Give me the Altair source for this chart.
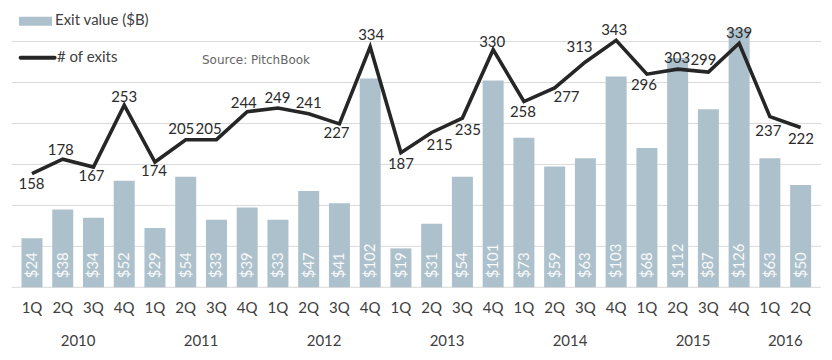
import altair as alt
import pandas as pd

# ---- data ----
YEARS = ["2010", "2011", "2012", "2013", "2014", "2015", "2016"]
QUARTERS_PER_YEAR = [4, 4, 4, 4, 4, 4, 2]
QUARTER_NAMES = ["1Q", "2Q", "3Q", "4Q"]
EXIT_VALUE = [24, 38, 34, 52, 29, 54, 33, 39, 33, 47, 41, 102, 19, 31, 54, 101,
              73, 59, 63, 103, 68, 112, 87, 126, 63, 50]
EXIT_COUNT = [158, 178, 167, 253, 174, 205, 205, 244, 249, 241, 227, 334, 187, 215,
              235, 330, 258, 277, 313, 343, 296, 303, 299, 339, 237, 222]
GRID_VALUES = [0, 20, 40, 60, 80, 100, 120]

# label placement for the exit-count labels (pixel nudges, style only)
LABEL_DX = [-0.5, -2, -2, 0, -1, -4.5, -8, -3.5, -0.5, 0, -3, 1, 0, 8, 5.5, -1,
            -1, 12, -6, -2, -3, -0.5, -5, 0, -1.5, 0.3]
LABEL_DY = [10, -9, 9, -8, 9, -11, -11, -8.6, -10.5, -10.5, 9, -12, 11, 12.5, 12, -8,
            10.5, 9.6, -15.4, -10.3, 11, -11.3, -11.8, -10.7, 14.5, 11.5]

year_col, quarter_col = [], []
for y, n in zip(YEARS, QUARTERS_PER_YEAR):
    for q in QUARTER_NAMES[:n]:
        year_col.append(y)
        quarter_col.append(q)

df = pd.DataFrame({
    "idx": list(range(len(EXIT_VALUE))),
    "year": year_col,
    "quarter": quarter_col,
    "value": EXIT_VALUE,
    "exits": EXIT_COUNT,
    "ldx": LABEL_DX,
    "ldy": LABEL_DY,
})
grid_df = pd.DataFrame({"g": GRID_VALUES})

FONT = "Lato"
FS = 15
BAR_COLOR = "#adc1cc"
LINE_COLOR = "#262626"
TEXT_COLOR = "#404040"

W, H = 809.4, 279.3
BAR_MAX = 136.4
LINE_MAX = 387.9
N = len(EXIT_VALUE)
STEP = W / N
LINE_PX = H / LINE_MAX

xscale = alt.Scale(domain=[-0.5, N - 0.5], nice=False, zero=False)
x = alt.X("idx:Q", scale=xscale, axis=None)

base = alt.Chart(df)

bar_scale = alt.Scale(domain=[0, BAR_MAX], nice=False)
grid = alt.Chart(grid_df).mark_rule(color="#d9d9d9", strokeWidth=1).encode(
    y=alt.Y("g:Q", scale=bar_scale, axis=None),
    x=alt.value(0), x2=alt.value(W),
)
bars = base.mark_bar(width=21, color=BAR_COLOR).encode(
    x=x,
    y=alt.Y("value:Q", scale=bar_scale, axis=None),
)
bar_text = base.transform_calculate(
    zero="0", vlabel="'$' + datum.value"
).mark_text(angle=270, align="left", baseline="middle", dx=9, font=FONT,
            fontSize=FS, color="#ffffff", opacity=0.92).encode(
    x=x,
    y=alt.Y("zero:Q", scale=bar_scale, axis=None),
    text="vlabel:N",
)
left = alt.layer(grid, bars, bar_text)

line_scale = alt.Scale(domain=[0, LINE_MAX], nice=False)
line = base.mark_line(color=LINE_COLOR, strokeWidth=3.6).encode(
    x=x, y=alt.Y("exits:Q", scale=line_scale, axis=None)
)
line_text = base.transform_calculate(
    lx=f"datum.idx + datum.ldx / {STEP}",
    ly=f"datum.exits - datum.ldy / {LINE_PX}",
).mark_text(font=FONT, fontSize=FS, color="#2b2b2b",
            align="center", baseline="middle").encode(
    x=alt.X("lx:Q", scale=xscale, axis=None),
    y=alt.Y("ly:Q", scale=line_scale, axis=None),
    text="exits:Q",
)
right = alt.layer(line, line_text)

quarter_text = base.mark_text(font=FONT, fontSize=FS, color=TEXT_COLOR,
                              baseline="middle").encode(
    x=x, y=alt.value(300.5), text="quarter:N"
)
year_text = base.transform_aggregate(
    mid="mean(idx)", groupby=["year"]
).mark_text(font=FONT, fontSize=FS, color=TEXT_COLOR, baseline="middle").encode(
    x=alt.X("mid:Q", scale=xscale, axis=None), y=alt.value(333), text="year:N"
)

one = alt.Chart(alt.Data(values=[{"k": 1}]))
leg_swatch = one.mark_rect(color=BAR_COLOR).encode(
    x=alt.value(7.4), x2=alt.value(40.4), y=alt.value(8.7), y2=alt.value(17.7)
)
leg_text1 = one.mark_text(font=FONT, fontSize=FS, color=TEXT_COLOR, align="left",
                          baseline="middle").encode(
    x=alt.value(43.4), y=alt.value(12.5), text=alt.value("Exit value ($B)")
)
leg_line = one.mark_rule(color=LINE_COLOR, strokeWidth=4, strokeCap="round").encode(
    x=alt.value(9), x2=alt.value(43), y=alt.value(49.7)
)
leg_text2 = one.mark_text(font=FONT, fontSize=FS, color=TEXT_COLOR, align="left",
                          baseline="middle").encode(
    x=alt.value(45.4), y=alt.value(49.5), text=alt.value("# of exits")
)
source = one.mark_text(font="DejaVu Sans", fontSize=12, color="#666666", align="left",
                       baseline="middle").encode(
    x=alt.value(190.4), y=alt.value(52), text=alt.value("Source: PitchBook")
)

chart = alt.layer(
    left, right, quarter_text, year_text,
    leg_swatch, leg_text1, leg_line, leg_text2, source
).resolve_scale(y="independent").properties(
    width=W, height=H,
    padding={"left": 3.6, "top": 0, "right": 3, "bottom": 65},
    autosize=alt.AutoSizeParams(type="none"),
    background="#ffffff",
).configure_view(stroke=None)

chart.save("out.html", embed_options={"renderer": "svg", "actions": False})
